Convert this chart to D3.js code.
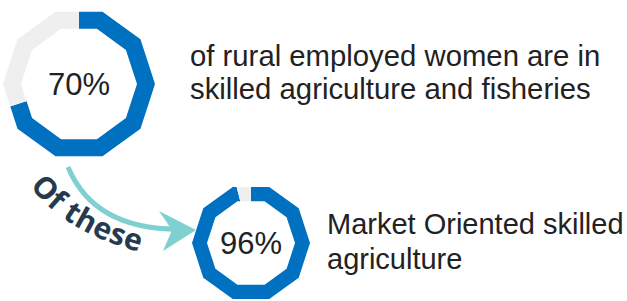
<!DOCTYPE html>
<html>
<head>
<meta charset="utf-8">
<script src="https://cdn.jsdelivr.net/npm/d3@7"></script>
<style>
  body { margin: 0; background: #fff; }
  text { font-family: "Liberation Sans", Arial, sans-serif; }
</style>
</head>
<body>
<div id="main"></div>
<script>
// valores
const shares = [70, 96];
const shareLabels = ["70%", "96%"];
const descriptions = [
  ["of rural employed women are in", "skilled agriculture and fisheries"],
  ["Market Oriented skilled", "agriculture"]
];
const linkLabel = "Of these";

const width = 627, height = 301;
const blue = "#0070c0", grey = "#efefef", teal = "#7fd0d0";

// layout de cada donut
const rings = [
  { cx: 79, cy: 84, outer: 76, inner: 58, font: 31, text: [190, 66], size: 29.3, gap: 33 },
  { cx: 251, cy: 243, outer: 59, inner: 44, font: 31, text: [327, 234], size: 29, gap: 35 }
];

const svg = d3.select('#main')
  .append('svg')
  .attr('width', width)
  .attr('height', height);

const defs = svg.append('defs');

// decágono com topo plano
function polygon(r) {
  const a = d3.scaleLinear().domain([0, 10]).range([0, 2 * Math.PI]);
  const pts = d3.range(10).map(i => d3.pointRadial(a(i + 0.5), r));
  return 'M' + pts.join('L') + 'Z';
}

const pie = d3.pie().sort(null).value(d => d);

rings.forEach((ring, k) => {
  defs.append('clipPath')
      .attr('id', 'clip' + k)
    .append('path')
      .attr('clip-rule', 'evenodd')
      .attr('d', polygon(ring.outer) + polygon(ring.inner));

  const g = svg.append('g')
    .attr('transform', `translate(${ring.cx},${ring.cy})`);

  const arc = d3.arc().innerRadius(0).outerRadius(ring.outer * 1.3);

  g.append('g')
      .attr('clip-path', `url(#clip${k})`)
    .selectAll('path')
    .data(pie([shares[k], 100 - shares[k]]))
    .join('path')
      .attr('d', arc)
      .attr('fill', (d, i) => i == 0 ? blue : grey);

  g.append('text')
    .attr('text-anchor', 'middle')
    .attr('y', ring.font * 0.36)
    .attr('font-size', ring.font)
    .attr('fill', '#222')
    .text(shareLabels[k]);

  svg.append('g')
    .selectAll('text')
    .data(descriptions[k])
    .join('text')
      .attr('x', ring.text[0])
      .attr('y', (d, i) => ring.text[1] + i * ring.gap)
      .attr('font-size', ring.size)
      .attr('fill', '#222')
      .text(d => d);
});

// seta curva entre os dois donuts
const arrowPath = d3.path();
arrowPath.moveTo(68, 167);
arrowPath.quadraticCurveTo(95, 232, 186, 229);
svg.append('path')
  .attr('d', arrowPath.toString())
  .attr('fill', 'none')
  .attr('stroke', teal)
  .attr('stroke-width', 5);

svg.append('path')
  .attr('d', 'M196,230 L159,211 L172,230 L163,251 Z')
  .attr('fill', teal);

// texto "Of these" seguindo a curva
const textPath = d3.path();
textPath.moveTo(30, 186);
textPath.quadraticCurveTo(72, 242, 170, 258);
defs.append('path')
  .attr('id', 'curve')
  .attr('d', textPath.toString());

svg.append('text')
  .attr('font-size', 30)
  .attr('font-weight', 'bold')
  .attr('letter-spacing', 0.5)
  .style('font-family', '"Open Sans", sans-serif')
  .attr('fill', '#253a4f')
  .append('textPath')
    .attr('href', '#curve')
    .text(linkLabel);
</script>
</body>
</html>
